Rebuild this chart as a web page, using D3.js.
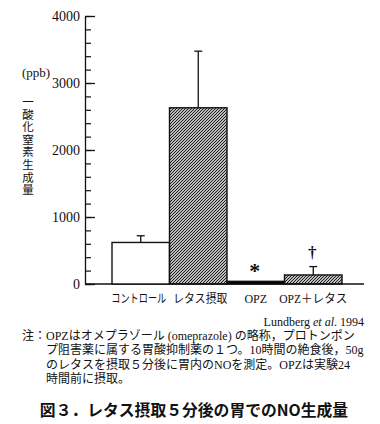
<!DOCTYPE html>
<html>
<head>
<meta charset="utf-8">
<script src="https://cdn.jsdelivr.net/npm/d3@7"></script>
<style>
body { margin:0; background:#fff; }
svg { display:block; }
text { fill:#111; }
.serif { font-family:"Liberation Serif","DejaVu Serif","Noto Sans CJK JP",serif; }
.jp { font-family:"Liberation Serif","Noto Sans CJK JP",sans-serif; }
</style>
</head>
<body>
<div id="chart"></div>
<script>
// data (ppb)
var categories = ["コントロール", "レタス摂取", "OPZ", "OPZ＋レタス"];
var values = [620, 2630, 40, 135];
var errUp = [100, 845, 0, 125];
var fills = ["white", "hatch", "black", "hatch"];
var marks = ["", "", "*", "†"];
var yTicks = [0, 1000, 2000, 3000, 4000];
var yLabel = "一酸化窒素生成量";
var noteLines = [
	"注：OPZはオメプラゾール (omeprazole) の略称，プロトンポン",
	"プ阻害薬に属する胃酸抑制薬の１つ。10時間の絶食後，50g",
	"のレタスを摂取５分後に胃内のNOを測定。OPZは実験24",
	"時間前に摂取。"
];
var title = "図３．レタス摂取５分後の胃でのNO生成量";

var W = 380, H = 424;
var svg = d3.select("#chart").append("svg").attr("width", W).attr("height", H);

// dense "////" hatch
var defs = svg.append("defs");
defs.append("pattern")
	.attr("id", "hatch")
	.attr("patternUnits", "userSpaceOnUse")
	.attr("width", 3).attr("height", 3)
	.append("path")
	.attr("d", "M-1,1 L1,-1 M0,3 L3,0 M2,4 L4,2")
	.attr("stroke", "#111").attr("stroke-width", 1.1);

var x = d3.scaleBand().domain(categories).range([112, 342]).padding(0);
var y = d3.scaleLinear().domain([0, 4000]).range([284, 16]);

// baseline
svg.append("line")
	.attr("x1", 85).attr("x2", 364)
	.attr("y1", y(0)).attr("y2", y(0))
	.attr("stroke", "#111").attr("stroke-width", 1.3);

// minor ticks
svg.append("g")
	.attr("transform", "translate(85,0)")
	.call(d3.axisLeft(y).tickValues(d3.range(0, 4001, 200)).tickSize(-6).tickFormat(""))
	.call(function(g){ g.select(".domain").remove(); })
	.selectAll("line").attr("stroke", "#111").attr("stroke-width", 1.2);

// major ticks + labels
var yAxis = svg.append("g")
	.attr("transform", "translate(85,0)")
	.call(d3.axisLeft(y).tickValues(yTicks).tickFormat(d3.format("d")).tickSizeInner(-10).tickSizeOuter(0).tickPadding(5));
yAxis.select(".domain").attr("stroke", "#111").attr("stroke-width", 1.3);
yAxis.selectAll("line").attr("stroke", "#111").attr("stroke-width", 1.3);
yAxis.selectAll("text").attr("class", "serif").style("font-size", "14px").attr("fill", "#222");

// bars
svg.append("g").selectAll("rect")
	.data(categories)
	.join("rect")
	.attr("x", function(d){ return x(d); })
	.attr("y", function(d, i){ return y(values[i]); })
	.attr("width", x.bandwidth())
	.attr("height", function(d, i){ return y(0) - y(values[i]); })
	.attr("fill", function(d, i){ return fills[i] == "hatch" ? "url(#hatch)" : fills[i]; })
	.attr("stroke", "#111")
	.attr("stroke-width", 1.4);

// error bars (upper only)
var eb = svg.append("g").attr("stroke", "#111").attr("stroke-width", 1.3);
categories.forEach(function(c, i){
	if (!errUp[i]) return;
	var cx = x(c) + x.bandwidth() / 2;
	eb.append("line").attr("x1", cx).attr("x2", cx)
		.attr("y1", y(values[i])).attr("y2", y(values[i] + errUp[i]));
	eb.append("line").attr("x1", cx - 4).attr("x2", cx + 4)
		.attr("y1", y(values[i] + errUp[i])).attr("y2", y(values[i] + errUp[i]));
});

// significance marks
categories.forEach(function(c, i){
	if (!marks[i]) return;
	var top = values[i] + errUp[i];
	svg.append("text")
		.attr("x", x(c) + x.bandwidth() / 2 - 1)
		.attr("y", y(top) - (i == 2 ? 3 : 9))
		.attr("text-anchor", "middle")
		.attr("class", "serif")
		.style("font-size", i == 2 ? "22px" : "17px")
		.style("font-weight", "bold")
		.text(marks[i]);
});

// category labels, squeezed horizontally where wider than the slot
var labelW = [55, 54, 26, 68];
var labelShift = [-2, 2, 0, 0];
svg.append("g").selectAll("text")
	.data(categories)
	.join("text")
	.attr("class", "jp")
	.attr("text-anchor", "middle")
	.style("font-size", "12px")
	.text(function(d){ return d; })
	.each(function(d, i){
		var cx = x(d) + x.bandwidth() / 2 + labelShift[i];
		var w = this.getComputedTextLength();
		var s = Math.min(1, labelW[i] / w);
		d3.select(this).attr("transform", "translate(" + cx + ",303) scale(" + s + ",1)");
	});

// unit + vertical label
svg.append("text").attr("class", "serif")
	.attr("x", 22).attr("y", 77)
	.style("font-size", "13px")
	.text("(ppb)");
svg.append("g").selectAll("text")
	.data(yLabel.split(""))
	.join("text")
	.attr("class", "jp")
	.attr("x", 28).attr("text-anchor", "middle")
	.attr("y", function(d, i){ return 106 + i * 12.6; })
	.style("font-size", "11.5px")
	.text(function(d){ return d; });

// source
var src = svg.append("text").attr("class", "serif")
	.attr("x", 364).attr("y", 326)
	.attr("text-anchor", "end")
	.style("font-size", "12px");
src.append("tspan").text("Lundberg ");
src.append("tspan").style("font-style", "italic").text("et al");
src.append("tspan").text(". 1994");

// note
svg.append("g").selectAll("text")
	.data(noteLines)
	.join("text")
	.attr("class", "jp")
	.attr("x", function(d, i){ return i == 0 ? 22 : 46; })
	.attr("y", function(d, i){ return 340 + i * 14.3; })
	.style("font-size", "12px")
	.text(function(d){ return d; });

// title
svg.append("text")
	.attr("x", 194).attr("y", 416)
	.attr("text-anchor", "middle")
	.style("font-family", "'Noto Sans CJK JP', sans-serif")
	.style("font-size", "15.8px")
	.style("font-weight", "bold")
	.text(title);
</script>
</body>
</html>
